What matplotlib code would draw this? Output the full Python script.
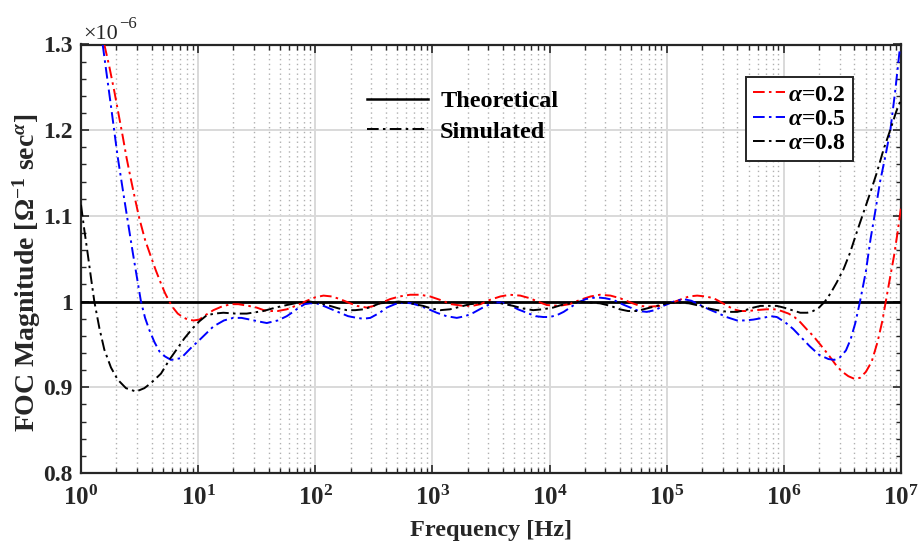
import matplotlib
matplotlib.use("Agg")
import matplotlib.pyplot as plt
import numpy as np
from matplotlib.lines import Line2D
from matplotlib.ticker import FixedLocator, MultipleLocator, NullFormatter

plt.rcParams['font.family'] = ['Liberation Serif', 'DejaVu Serif']
plt.rcParams['font.weight'] = 'bold'
plt.rcParams['mathtext.fontset'] = 'custom'
plt.rcParams['mathtext.rm'] = 'Liberation Serif:bold'
plt.rcParams['mathtext.bf'] = 'Liberation Serif:bold'
plt.rcParams['mathtext.it'] = 'Liberation Serif:italic'

# ---- data (frequency as log10 exponent, magnitude in units of 1e-6) ----
red_exp = [0.199, 0.242, 0.285, 0.319, 0.356, 0.390, 0.427, 0.461, 0.498, 0.547, 0.598, 0.640,
           0.683, 0.717, 0.754, 0.791, 0.826, 0.868, 0.911, 0.962, 1.01, 1.06, 1.13, 1.215,
           1.29, 1.343, 1.43, 1.50, 1.56, 1.614, 1.68, 1.757, 1.85, 1.928, 2.00, 2.07, 2.14,
           2.21, 2.28, 2.355, 2.44, 2.50, 2.57, 2.64, 2.72, 2.81, 2.895, 2.98, 3.066, 3.16,
           3.265, 3.34, 3.41, 3.49, 3.58, 3.66, 3.75, 3.83, 3.90, 3.976, 4.08, 4.17, 4.26,
           4.35, 4.43, 4.52, 4.60, 4.69, 4.77, 4.85, 4.94, 5.03, 5.11, 5.19, 5.26, 5.33, 5.40,
           5.48, 5.57, 5.63, 5.69, 5.76, 5.85, 5.92, 5.98, 6.04, 6.09, 6.14, 6.20, 6.25, 6.31,
           6.38, 6.45, 6.50, 6.55, 6.60, 6.65, 6.70, 6.75, 6.80, 6.84, 6.87, 6.90, 6.94, 6.97, 7.0]
red_val = [1.300, 1.274, 1.245, 1.220, 1.193, 1.167, 1.142, 1.120, 1.097, 1.072, 1.052, 1.036,
           1.021, 1.010, 1.000, 0.992, 0.986, 0.982, 0.979, 0.978, 0.979, 0.984, 0.990, 0.995,
           0.997, 0.997, 0.995, 0.993, 0.990, 0.989, 0.989, 0.991, 0.996, 1.001, 1.005, 1.007, 1.006,
           1.003, 0.999, 0.995, 0.993, 0.995, 0.999, 1.003, 1.006, 1.008, 1.008, 1.006, 1.002, 0.997,
           0.995, 0.995, 0.997, 1.002, 1.006, 1.008, 1.007, 1.004, 1.000, 0.996, 0.995, 0.997, 1.002,
           1.006, 1.008, 1.007, 1.004, 0.999, 0.995, 0.994, 0.995, 0.998, 1.002, 1.006, 1.007, 1.006, 1.004,
           0.998, 0.991, 0.989, 0.989, 0.990, 0.991, 0.991, 0.989, 0.986, 0.982, 0.976, 0.967, 0.960, 0.950,
           0.938, 0.925, 0.918, 0.913, 0.910, 0.911, 0.918, 0.930, 0.953, 0.977, 1.000, 1.023, 1.053, 1.080, 1.110]

blue_exp = [0.185, 0.256, 0.313, 0.370, 0.441, 0.512, 0.547, 0.583, 0.626, 0.669, 0.717, 0.768,
            0.854, 0.939, 1.025, 1.13, 1.22, 1.30, 1.37, 1.443, 1.51, 1.586, 1.68, 1.757, 1.81,
            1.86, 1.91, 1.956, 2.01, 2.07, 2.14, 2.21, 2.28, 2.355, 2.41, 2.47, 2.55, 2.61, 2.68,
            2.75, 2.82, 2.895, 2.97, 3.037, 3.12, 3.208, 3.28, 3.35, 3.43, 3.52, 3.59, 3.66, 3.73,
            3.805, 3.88, 3.947, 4.00, 4.06, 4.12, 4.175, 4.23, 4.31, 4.40, 4.47, 4.545, 4.62, 4.69,
            4.76, 4.83, 4.90, 4.97, 5.06, 5.14, 5.21, 5.285, 5.36, 5.43, 5.51, 5.60, 5.67, 5.74,
            5.82, 5.89, 5.94, 6.01, 6.08, 6.15, 6.22, 6.30, 6.38, 6.43, 6.48, 6.53, 6.57, 6.61,
            6.65, 6.70, 6.74, 6.78, 6.82, 6.87, 6.91, 6.95, 6.99]
blue_val = [1.300, 1.228, 1.169, 1.119, 1.058, 1.000, 0.981, 0.967, 0.953, 0.942, 0.936, 0.932,
            0.934, 0.946, 0.957, 0.971, 0.978, 0.981, 0.981, 0.979, 0.977, 0.975, 0.978, 0.983, 0.988,
            0.993, 0.997, 0.998, 0.998, 0.995, 0.991, 0.987, 0.983, 0.981, 0.980, 0.981, 0.987, 0.993, 0.997,
            0.999, 0.998, 0.995, 0.991, 0.987, 0.983, 0.981, 0.983, 0.987, 0.993, 0.999, 0.999, 0.996, 0.991,
            0.987, 0.983, 0.982, 0.982, 0.984, 0.988, 0.993, 0.998, 1.003, 1.005, 1.004, 1.002, 0.997, 0.993,
            0.989, 0.988, 0.990, 0.995, 1.000, 1.003, 1.001, 0.996, 0.991, 0.987, 0.982, 0.978, 0.978, 0.979,
            0.981, 0.983, 0.982, 0.976, 0.968, 0.958, 0.948, 0.938, 0.933, 0.932, 0.935, 0.943, 0.956, 0.975,
            1.000, 1.035, 1.073, 1.105, 1.139, 1.172, 1.201, 1.245, 1.295]

black_exp = [0.0, 0.028, 0.057, 0.085, 0.114, 0.157, 0.199, 0.256, 0.313, 0.384, 0.470, 0.541,
             0.598, 0.683, 0.754, 0.826, 0.882, 0.954, 1.01, 1.073, 1.14, 1.215, 1.32, 1.415,
             1.557, 1.66, 1.757, 1.86, 1.956, 2.04, 2.126, 2.20, 2.27, 2.34, 2.41, 2.48, 2.55,
             2.64, 2.71, 2.78, 2.85, 2.92, 2.99, 3.066, 3.15, 3.236, 3.32, 3.41, 3.48, 3.55,
             3.62, 3.69, 3.77, 3.86, 3.94, 4.03, 4.10, 4.175, 4.26, 4.34, 4.43, 4.52, 4.60,
             4.67, 4.745, 4.83, 4.915, 5.00, 5.09, 5.19, 5.285, 5.36, 5.43, 5.52, 5.60, 5.67,
             5.74, 5.80, 5.87, 5.94, 6.00, 6.07, 6.14, 6.20, 6.25, 6.30, 6.35, 6.40, 6.45, 6.51,
             6.565, 6.62, 6.68, 6.74, 6.795, 6.85, 6.91, 6.96, 7.0]
black_val = [1.113, 1.084, 1.056, 1.028, 1.000, 0.969, 0.944, 0.923, 0.909, 0.899, 0.895, 0.899,
             0.905, 0.916, 0.932, 0.946, 0.957, 0.969, 0.977, 0.984, 0.986, 0.987, 0.986, 0.986,
             0.989, 0.993, 0.996, 0.999, 1.000, 0.998, 0.995, 0.992, 0.990, 0.990, 0.991, 0.994, 0.998,
             0.999, 1.000, 0.999, 0.997, 0.995, 0.992, 0.990, 0.991, 0.994, 0.997, 0.998, 0.999, 0.999,
             0.997, 0.995, 0.992, 0.990, 0.991, 0.993, 0.996, 0.998, 1.000, 0.999, 0.998, 0.995, 0.991,
             0.989, 0.989, 0.992, 0.995, 0.998, 0.999, 0.998, 0.995, 0.992, 0.990, 0.988, 0.988, 0.990,
             0.993, 0.995, 0.995, 0.995, 0.993, 0.990, 0.987, 0.987, 0.989, 0.993, 1.000, 1.010, 1.022, 1.038,
             1.057, 1.080, 1.104, 1.128, 1.151, 1.177, 1.201, 1.222, 1.236]

theory_freq = [1.0, 1.0e7]
theory_val = [1.0, 1.0]

series_labels = [r'$\alpha$=0.2', r'$\alpha$=0.5', r'$\alpha$=0.8']
series_colors = ['#ff0000', '#0000ff', '#000000']
xtick_vals = [1e0, 1e1, 1e2, 1e3, 1e4, 1e5, 1e6, 1e7]
xtick_labels = [r'$10^{0}$', r'$10^{1}$', r'$10^{2}$', r'$10^{3}$', r'$10^{4}$', r'$10^{5}$',
                r'$10^{6}$', r'$10^{7}$']
ytick_vals = [0.8, 0.9, 1.0, 1.1, 1.2, 1.3]
ytick_labels = ['0.8', '0.9', '1', '1.1', '1.2', '1.3']

# ---- figure ----
fig = plt.figure(figsize=(9.19, 5.49), dpi=100)
ax = fig.add_axes([81 / 919, 1 - 473 / 549, 820 / 919, (473 - 44.5) / 549])

ax.set_xscale('log')
ax.set_xlim(1, 1e7)
ax.set_ylim(0.8, 1.3)

ax.plot(theory_freq, theory_val, color='black', lw=2.0, ls='-', zorder=3)

dash = (0, (6, 2.2, 1.3, 2.2))
handles = []
for ex, val, lab, col in zip([red_exp, blue_exp, black_exp], [red_val, blue_val, black_val],
                             series_labels, series_colors):
    f = np.power(10.0, np.asarray(ex))
    h, = ax.plot(f, val, color=col, lw=1.4, ls=dash, label=lab, zorder=4)
    handles.append(h)

# ticks
minor_x = [m * d for d in xtick_vals[:-1] for m in range(2, 10)]
ax.xaxis.set_major_locator(FixedLocator(xtick_vals))
ax.xaxis.set_minor_locator(FixedLocator(minor_x))
ax.xaxis.set_minor_formatter(NullFormatter())
ax.set_xticklabels(xtick_labels)
ax.set_yticks(ytick_vals)
ax.set_yticklabels(ytick_labels)
ax.yaxis.set_minor_locator(MultipleLocator(0.02))

ax.tick_params(which='both', direction='in', top=True, right=True, colors='#262626')
ax.tick_params(which='major', length=6, width=1.2)
ax.tick_params(which='minor', length=3.5, width=1.0)
ax.tick_params(axis='x', which='major', pad=9, labelsize=18)
ax.tick_params(axis='y', which='major', pad=6, labelsize=17)
for t in ax.get_xticklabels() + ax.get_yticklabels():
    t.set_fontweight('bold')
    t.set_color('#262626')

for sp in ax.spines.values():
    sp.set_linewidth(1.6)
    sp.set_color('#262626')

ax.grid(which='major', axis='both', color='#d9d9d9', lw=1.4, ls='-', zorder=0)
ax.grid(which='minor', axis='x', color='#b0b0b0', lw=1.0, ls=(0, (1, 2.5)), zorder=0)
ax.set_axisbelow(True)

ax.set_xlabel('Frequency [Hz]', fontsize=17.5, fontweight='bold', labelpad=7, color='#262626')
ax.set_ylabel(r'FOC Magnitude [$\Omega^{-1}$ sec$^{\alpha}$]', fontsize=20, fontweight='bold',
              color='#262626')
ax.yaxis.set_label_coords(-0.046, 0.466)

# offset (exponent) text
fig.text(83 / 919, 1 - 39 / 549, '×10', fontsize=16, fontweight='normal', ha='left', va='baseline',
         color='#262626')
fig.text(119 / 919, 1 - 28 / 549, '\u22126', fontsize=12, fontweight='normal', ha='left', va='baseline',
         color='#262626')

# legends
leg1 = ax.legend([Line2D([], [], color='black', lw=1.8, ls='-'),
                  Line2D([], [], color='black', lw=1.4, ls=dash)],
                 ['Theoretical', 'Simulated'], loc='upper left', bbox_to_anchor=(0.349, 0.893),
                 frameon=False, prop={'family': 'Liberation Serif', 'weight': 'bold', 'size': 17.5},
                 handlelength=2.5, handletextpad=0.5, labelspacing=0.35, borderpad=0, borderaxespad=0)
ax.add_artist(leg1)

leg2 = ax.legend(handles=handles, loc='upper right', bbox_to_anchor=(0.941, 0.924),
                 frameon=True, fancybox=False, edgecolor='#262626', framealpha=1,
                 prop={'family': 'Liberation Serif', 'weight': 'bold', 'size': 17},
                 handlelength=1.35, handletextpad=0.15, labelspacing=0.12, borderpad=0.3,
                 borderaxespad=0)
leg2.get_frame().set_linewidth(1.4)

fig.savefig('out.png', dpi=100)
